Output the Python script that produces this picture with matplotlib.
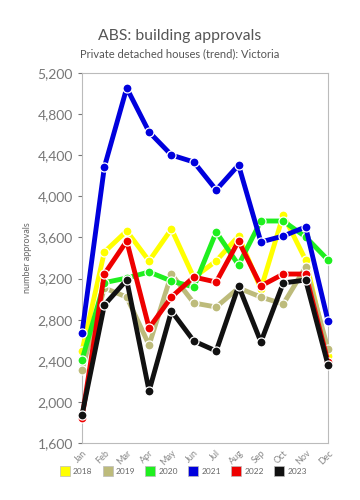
import matplotlib
matplotlib.use("Agg")
import matplotlib.pyplot as plt

plt.rcParams["font.family"] = ["Lato", "DejaVu Sans"]

# ── Data ─────────────────────────────────────────────────────────
MONTHS = ["Jan", "Feb", "Mar", "Apr", "May", "Jun",
          "Jul", "Aug", "Sep", "Oct", "Nov", "Dec"]

Y2018 = [2495, 3458, 3663, 3371, 3682, 3210, 3371, 3614, 3100, 3818, 3381, 2450]
Y2019 = [2310, 3108, 3020, 2553, 3244, 2962, 2923, 3108, 3020, 2952, 3312, 2515]
Y2020 = [2408, 3160, 3205, 3264, 3176, 3118, 3653, 3332, 3760, 3760, 3605, 3381]
Y2021 = [2670, 4285, 5054, 4626, 4402, 4334, 4062, 4305, 3556, 3614, 3702, 2787]
Y2022 = [1843, 3244, 3565, 2719, 3020, 3215, 3166, 3565, 3128, 3244, 3244, 2390]
Y2023 = [1872, 2943, 3186, 2106, 2884, 2592, 2495, 3128, 2583, 3157, 3186, 2359]

SERIES = [
    ("2018", Y2018, "#FFFF00"),
    ("2019", Y2019, "#BDBB7B"),
    ("2020", Y2020, "#1FEF1F"),
    ("2021", Y2021, "#0000DD"),
    ("2022", Y2022, "#EE0000"),
    ("2023", Y2023, "#111111"),
]

GREY = "#666666"

fig = plt.figure(figsize=(3.6, 5.0), dpi=100)
ax = fig.add_axes([82 / 360, 1 - 443 / 500, 246 / 360, 370 / 500])

x = list(range(len(MONTHS)))
for i, (name, vals, col) in enumerate(SERIES):
    ax.plot(x, vals, color=col, linewidth=3.5, marker="o",
            markersize=6.5, markerfacecolor=col,
            markeredgecolor="white", markeredgewidth=0.9,
            label=name, zorder=3 + i, clip_on=False)

ax.set_xlim(0, 11)
ax.set_ylim(1600, 5200)
ax.set_yticks(range(1600, 5201, 400))
ax.set_yticklabels([f"{v:,}" for v in range(1600, 5201, 400)])
ax.set_xticks(x)
ax.set_xticklabels(MONTHS, rotation=45, ha="right",
                   rotation_mode="anchor")
ax.tick_params(axis="y", labelsize=10, colors="#777777", length=3)
ax.tick_params(axis="x", labelsize=6.5, colors="#888888", length=0,
               pad=4)
for s in ax.spines.values():
    s.set_color("#BBBBBB")
    s.set_linewidth(0.8)

ax.set_ylabel("number approvals", fontsize=6.5, color=GREY, labelpad=4)

fig.text(0.5, 1 - 36 / 500, "ABS: building approvals", ha="center",
         va="center", fontsize=11.3, color="#555555")
fig.text(0.5, 1 - 54 / 500, "Private detached houses (trend): Victoria",
         ha="center", va="center", fontsize=8, color="#555555")

handles = [plt.Line2D([], [], linestyle="none", marker="s",
                      markersize=7, markerfacecolor=c,
                      markeredgecolor="#BBBBBB", markeredgewidth=0.5)
           for _, _, c in SERIES]
leg = fig.legend(handles, [n for n, _, _ in SERIES], loc="center",
                 bbox_to_anchor=(0.51, 1 - 471 / 500), ncol=6,
                 frameon=False, fontsize=6, handletextpad=0.5,
                 columnspacing=1.3, handlelength=1.0)
for t in leg.get_texts():
    t.set_color(GREY)

fig.savefig("out.png", dpi=100, facecolor="white")
